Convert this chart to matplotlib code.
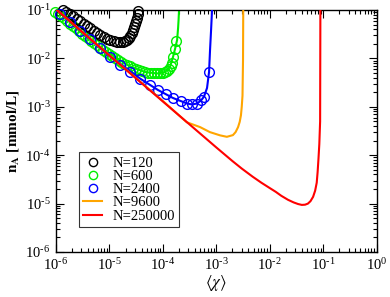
import matplotlib
matplotlib.use("Agg")
import matplotlib.pyplot as plt
import numpy as np
from matplotlib.ticker import LogLocator, NullFormatter, FuncFormatter

plt.rcParams["font.family"] = ["Liberation Serif", "DejaVu Serif"]
plt.rcParams["mathtext.fontset"] = "stix"

# ====== data ======
# N=120 (circles)
chi_120 = [1.35e-6, 1.54e-6, 1.83e-6, 2.08e-6, 2.47e-6, 2.81e-6, 3.34e-6, 3.81e-6,
           4.33e-6, 5.15e-6, 5.86e-6, 6.67e-6, 7.92e-6, 9.02e-6, 1.03e-5, 1.22e-5,
           1.39e-5, 1.58e-5, 1.80e-5, 1.96e-5, 2.14e-5, 2.33e-5, 2.43e-5, 2.65e-5,
           2.77e-5, 2.89e-5, 3.02e-5, 3.15e-5, 3.29e-5, 3.43e-5, 3.43e-5]
n_120 = [0.1, 0.0909, 0.0827, 0.0752, 0.0652, 0.0593, 0.0514, 0.0467,
         0.0425, 0.0368, 0.0335, 0.0304, 0.0277, 0.0252, 0.0240, 0.0229,
         0.0218, 0.0218, 0.0218, 0.0229, 0.0240, 0.0264, 0.0290, 0.0335,
         0.0386, 0.0446, 0.0514, 0.0593, 0.0684, 0.0827, 0.0954]

# N=600 (circles + line)
chi_600 = [9.6e-7, 1.09e-6, 1.24e-6, 1.41e-6, 1.61e-6, 1.83e-6, 2.08e-6, 2.37e-6,
           2.70e-6, 3.07e-6, 3.49e-6, 3.97e-6, 4.52e-6, 5.15e-6, 5.86e-6, 6.67e-6,
           7.59e-6, 8.64e-6, 9.83e-6, 1.12e-5, 1.27e-5, 1.45e-5, 1.65e-5, 1.88e-5,
           2.14e-5, 2.43e-5, 2.77e-5, 3.15e-5, 3.58e-5, 4.08e-5, 4.64e-5, 5.28e-5,
           6.01e-5, 6.84e-5, 7.79e-5, 8.87e-5, 1.01e-4, 1.10e-4, 1.20e-4, 1.31e-4,
           1.42e-4, 1.49e-4, 1.55e-4, 1.69e-4, 1.77e-4]
n_600 = [0.0909, 0.0827, 0.0752, 0.0668, 0.0593, 0.0526, 0.0467, 0.0415,
         0.0368, 0.0327, 0.0290, 0.0258, 0.0229, 0.0208, 0.0185, 0.0164,
         0.0149, 0.0136, 0.0123, 0.0112, 0.0102, 9.27e-3, 8.43e-3, 7.84e-3,
         7.30e-3, 6.81e-3, 6.33e-3, 6.04e-3, 5.76e-3, 5.49e-3, 5.24e-3, 5.11e-3,
         4.99e-3, 4.88e-3, 4.88e-3, 4.88e-3, 4.99e-3, 5.24e-3, 5.62e-3, 6.18e-3,
         6.97e-3, 8.04e-3, 0.0107, 0.0156, 0.0229]
chi_600_line = [1.04e-6, 3.49e-6, 1.03e-5, 2.43e-5, 4.64e-5, 7.79e-5, 1.10e-4,
                1.36e-4, 1.55e-4, 1.69e-4, 1.85e-4, 1.93e-4, 1.97e-4, 2.01e-4]
n_600_line = [0.1, 0.0290, 0.0123, 6.81e-3, 5.24e-3, 4.88e-3, 5.24e-3,
              6.64e-3, 0.0107, 0.0156, 0.0240, 0.0425, 0.0621, 0.1]

# N=2400 (circles + line)
chi_2400 = [1.19e-6, 1.83e-6, 2.81e-6, 4.33e-6, 6.67e-6, 1.03e-5, 1.58e-5, 2.43e-5,
            3.74e-5, 5.76e-5, 8.13e-5, 1.15e-4, 1.55e-4, 2.19e-4, 2.84e-4, 3.52e-4,
            4.37e-4, 5.19e-4, 5.91e-4, 7.33e-4]
n_2400 = [0.0843, 0.0560, 0.0372, 0.0247, 0.0164, 0.0109, 7.24e-3, 5.24e-3,
          3.84e-3, 2.82e-3, 2.22e-3, 1.80e-3, 1.52e-3, 1.29e-3, 1.17e-3, 1.12e-3,
          1.17e-3, 1.35e-3, 1.63e-3, 5.24e-3]
chi_2400_line = [1.04e-6, 1.03e-5, 3.74e-5, 8.13e-5, 1.55e-4, 2.84e-4, 3.52e-4,
                 4.37e-4, 5.19e-4, 5.91e-4, 6.72e-4, 7.33e-4, 7.65e-4, 8.0e-4, 8.34e-4]
n_2400_line = [0.1, 0.0109, 3.84e-3, 2.22e-3, 1.52e-3, 1.17e-3, 1.12e-3,
               1.17e-3, 1.35e-3, 1.63e-3, 2.45e-3, 5.24e-3, 0.0149, 0.0386, 0.1]

# N=9600 (line)
chi_9600 = [1.04e-6, 1e-5, 1e-4, 2.8e-4, 5e-4, 7.6e-4, 1.18e-3, 1.58e-3, 2.05e-3,
            2.3e-3, 2.56e-3, 2.75e-3, 2.9e-3, 3.0e-3, 3.1e-3, 3.17e-3, 3.2e-3]
n_9600 = [0.1, 0.0115, 1.32e-3, 4.8e-4, 3.8e-4, 3.0e-4, 2.57e-4, 2.4e-4, 2.6e-4,
          3.0e-4, 3.8e-4, 4.9e-4, 6.7e-4, 1.0e-3, 1.7e-3, 9.3e-3, 0.1]

# N=250000 (line)
chi_250000 = [1.04e-6, 1e-5, 1e-4, 1e-3, 2e-3, 3e-3, 4.8e-3, 7e-3, 1e-2, 1.3e-2,
              1.65e-2, 2.2e-2, 2.8e-2, 3.4e-2, 4e-2, 4.6e-2, 5.2e-2, 5.8e-2,
              6.5e-2, 7.1e-2, 7.6e-2, 7.9e-2, 8.2e-2, 8.5e-2, 8.8e-2, 8.9e-2]
n_250000 = [0.1, 0.0115, 1.29e-3, 1.45e-4, 7.6e-5, 5.3e-5, 3.6e-5, 2.7e-5, 2.1e-5,
            1.75e-5, 1.45e-5, 1.2e-5, 1.06e-5, 9.8e-6, 9.4e-6, 9.5e-6, 1.0e-5,
            1.12e-5, 1.38e-5, 1.85e-5, 2.7e-5, 4.5e-5, 8.5e-5, 1.7e-4, 5e-4, 0.1]


def sci_label(v, pos):
    e = int(round(np.log10(v)))
    if e < 0:
        return "$\\mathdefault{10^{\u2010%d}}$" % (-e)
    return "$\\mathdefault{10^{%d}}$" % e


# ====== figure ======
fig = plt.figure(figsize=(3.9, 2.97), dpi=100)
ax = fig.add_axes([0.1436, 0.1515, 0.8218, 0.8148])

ms = 7.0
ax.plot(chi_600, n_600, "o", mfc="none", mec="#00ee00", ms=ms, mew=1.0,
        label="N=600", clip_on=False, zorder=2)
ax.plot(chi_120, n_120, "o", mfc="none", mec="black", ms=ms, mew=1.0,
        label="N=120", clip_on=False, zorder=3)
ax.plot(chi_2400, n_2400, "o", mfc="none", mec="#0000ff", ms=ms, mew=1.0,
        label="N=2400", clip_on=False, zorder=3)
ax.plot(chi_600_line, n_600_line, color="#00ee00", lw=1.5, zorder=2)
ax.plot(chi_2400_line, n_2400_line, color="#0000ff", lw=1.5, zorder=4)
ax.plot(chi_9600, n_9600, color="#ffa500", lw=1.5, label="N=9600", zorder=4)
ax.plot(chi_250000, n_250000, color="#ff0000", lw=1.5, label="N=250000", zorder=5)

ax.set_xscale("log")
ax.set_yscale("log")
ax.set_xlim(1e-6, 1)
ax.set_ylim(1e-6, 1e-1)

ax.xaxis.set_major_locator(LogLocator(base=10, numticks=10))
ax.yaxis.set_major_locator(LogLocator(base=10, numticks=10))
ax.xaxis.set_minor_locator(LogLocator(base=10, subs=range(2, 10), numticks=20))
ax.yaxis.set_minor_locator(LogLocator(base=10, subs=range(2, 10), numticks=20))
ax.xaxis.set_major_formatter(FuncFormatter(sci_label))
ax.yaxis.set_major_formatter(FuncFormatter(sci_label))
ax.xaxis.set_minor_formatter(NullFormatter())
ax.yaxis.set_minor_formatter(NullFormatter())

ax.tick_params(which="both", direction="in", top=True, right=True,
               labelsize=10.5, width=0.8)
ax.tick_params(which="major", length=6, pad=4)
ax.tick_params(which="minor", length=3)
for s in ax.spines.values():
    s.set_linewidth(1.0)

ax.set_xlabel(r"$\langle\chi\rangle$", fontsize=12, labelpad=0)
ax.set_ylabel(r"$\mathbf{n_{A}}$ [mmol/L]", fontsize=11, fontweight="bold",
              labelpad=3)

handles, labels = ax.get_legend_handles_labels()
order = ["N=120", "N=600", "N=2400", "N=9600", "N=250000"]
hmap = dict(zip(labels, handles))
leg = ax.legend([hmap[k] for k in order], order, loc="lower left",
                bbox_to_anchor=(0.072, 0.103), borderaxespad=0,
                fontsize=10.5, frameon=True, fancybox=False,
                edgecolor="black", handlelength=1.3, handletextpad=0.7,
                borderpad=0.3, labelspacing=0.0, markerscale=0.85)
leg.get_frame().set_linewidth(0.8)

fig.savefig("out.png", dpi=100, facecolor="white")
